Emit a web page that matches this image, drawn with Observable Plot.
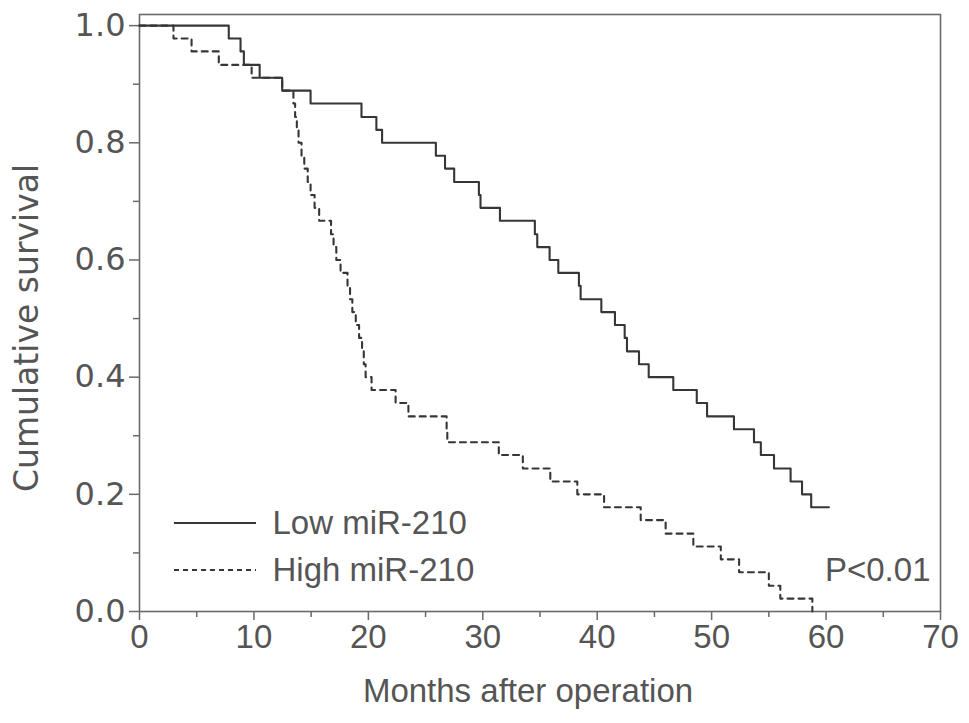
<!DOCTYPE html>
<html>
<head>
<meta charset="utf-8">
<script src="https://cdn.jsdelivr.net/npm/d3@7"></script>
<script src="https://cdn.jsdelivr.net/npm/@observablehq/plot@0.6"></script>
<style>
  body { margin: 0; background: #fff; }
  #wrap { position: relative; width: 969px; height: 723px; }
  #legend { position: absolute; left: 0; top: 0; width: 969px; height: 723px; pointer-events: none; }
</style>
</head>
<body>
<div id="wrap"></div>
<script>
// Low miR-210 group (Kaplan–Meier steps)
const lowMonths = [0, 7.8, 8.83, 9.12, 10.5, 12.47, 14.95, 19.4, 20.7, 21.2,
  25.9, 26.7, 27.5, 29.66, 29.8, 31.5, 34.55, 34.76, 35.84, 36.6,
  38.4, 38.55, 40.36, 41.55, 42.4, 42.6, 43.65, 44.5, 46.65, 48.7,
  49.6, 51.95, 53.7, 54.3, 55.45, 56.9, 57.9, 58.7, 60.25];
const lowSurvival = [1.0, 0.978, 0.956, 0.933, 0.911, 0.889, 0.867, 0.844, 0.822, 0.800,
  0.778, 0.756, 0.733, 0.711, 0.689, 0.667, 0.644, 0.622, 0.600, 0.578,
  0.556, 0.533, 0.511, 0.489, 0.467, 0.444, 0.422, 0.400, 0.378, 0.356,
  0.333, 0.311, 0.289, 0.267, 0.244, 0.222, 0.200, 0.178, 0.178];

// High miR-210 group
const highMonths = [0, 2.97, 4.55, 6.93, 9.8, 12.47, 13.45, 13.6, 13.75, 13.9,
  14.16, 14.4, 14.7, 14.95, 15.3, 15.7, 16.74, 16.96, 17.2, 17.57,
  18.18, 18.4, 18.6, 18.9, 19.19, 19.45, 19.6, 19.76, 20.28, 22.38,
  23.5, 26.84, 26.9, 31.4, 33.5, 35.9, 38.26, 40.6, 43.8, 45.98,
  48.4, 50.8, 52.4, 55.0, 56.0, 58.8];
const highSurvival = [1.0, 0.978, 0.956, 0.933, 0.911, 0.889, 0.867, 0.844, 0.822, 0.800,
  0.778, 0.756, 0.733, 0.711, 0.689, 0.667, 0.644, 0.622, 0.600, 0.578,
  0.556, 0.533, 0.511, 0.489, 0.467, 0.444, 0.422, 0.400, 0.378, 0.356,
  0.333, 0.311, 0.289, 0.267, 0.244, 0.222, 0.200, 0.178, 0.156, 0.133,
  0.111, 0.089, 0.067, 0.044, 0.022, 0.0];

const xMajor = [0, 10, 20, 30, 40, 50, 60, 70];
const xMinor = [5, 15, 25, 35, 45, 55, 65];
const yMajor = [0, 0.2, 0.4, 0.6, 0.8, 1.0];
const yMinor = [0.1, 0.3, 0.5, 0.7, 0.9];

const seriesLabels = ["Low miR-210", "High miR-210"];
const pText = "P<0.01";
const xLabel = "Months after operation";
const yLabel = "Cumulative survival";

const low = lowMonths.map((m, i) => ({month: m, survival: lowSurvival[i]}));
const high = highMonths.map((m, i) => ({month: m, survival: highSurvival[i]}));

const ink = "#363636";
const axisInk = "#6a6a6a";
const textInk = "#555";
const font = "'Liberation Sans', Arial, Helvetica, sans-serif";
const wideFont = "'DejaVu Sans', Verdana, sans-serif";

const plot = Plot.plot({
  width: 969,
  height: 723,
  marginLeft: 139,
  marginRight: 29,
  marginTop: 14,
  marginBottom: 112,
  style: {fontFamily: font, color: textInk, background: "#fff", overflow: "visible"},
  x: {domain: [0, 70]},
  y: {domain: [0, 1.019]},
  marks: [
    Plot.frame({stroke: axisInk, strokeWidth: 1.6}),
    Plot.axisX({ticks: xMinor, tickSize: 6, tickFormat: () => "", label: null, stroke: axisInk, strokeWidth: 1.5}),
    Plot.axisX({ticks: xMajor, tickSize: 9, tickPadding: 4, fontSize: 33, stroke: axisInk, strokeWidth: 1.5, fill: textInk, label: null}),
    Plot.axisY({ticks: yMinor, tickSize: 6, tickFormat: () => "", label: null, stroke: axisInk, strokeWidth: 1.5}),
    Plot.axisY({ticks: yMajor, tickSize: 10, tickPadding: 4, fontSize: 32, fontFamily: wideFont, tickFormat: d3.format(".1f"),
      stroke: axisInk, strokeWidth: 1.5, fill: textInk, label: null}),
    Plot.text([xLabel], {text: d => d, frameAnchor: "bottom", dx: -12, dy: 80, fontSize: 33, textAnchor: "middle", lineAnchor: "middle", fill: textInk}),
    Plot.text([yLabel], {text: d => d, frameAnchor: "left", rotate: -90, dx: -112, dy: 15, fontSize: 33, fontFamily: wideFont, textAnchor: "middle", lineAnchor: "middle", fill: textInk}),
    Plot.line(low, {x: "month", y: "survival", curve: "step-after", stroke: ink, strokeWidth: 2.1}),
    Plot.line(high, {x: "month", y: "survival", curve: "step-after", stroke: ink, strokeWidth: 2.1, strokeDasharray: "6,5"}),
    Plot.text([seriesLabels[0]], {text: d => d, frameAnchor: "bottom-left", dx: 133, dy: -88, fontSize: 33, textAnchor: "start", lineAnchor: "middle", fill: textInk}),
    Plot.text([seriesLabels[1]], {text: d => d, frameAnchor: "bottom-left", dx: 133, dy: -41, fontSize: 33, textAnchor: "start", lineAnchor: "middle", fill: textInk}),
    Plot.text([pText], {text: d => d, frameAnchor: "bottom-right", dx: -10, dy: -41, fontSize: 33, textAnchor: "end", lineAnchor: "middle", fill: textInk})
  ]
});

const wrap = document.getElementById("wrap");
wrap.appendChild(plot);

// legend line samples
const ns = "http://www.w3.org/2000/svg";
const leg = document.createElementNS(ns, "svg");
leg.setAttribute("id", "legend");
leg.setAttribute("width", 969);
leg.setAttribute("height", 723);
[[523, null], [570, "5,4"]].forEach(([y, dash]) => {
  const l = document.createElementNS(ns, "line");
  l.setAttribute("x1", 174); l.setAttribute("x2", 256);
  l.setAttribute("y1", y); l.setAttribute("y2", y);
  l.setAttribute("stroke", ink); l.setAttribute("stroke-width", 2);
  if (dash) l.setAttribute("stroke-dasharray", dash);
  leg.appendChild(l);
});
wrap.appendChild(leg);
</script>
</body>
</html>
